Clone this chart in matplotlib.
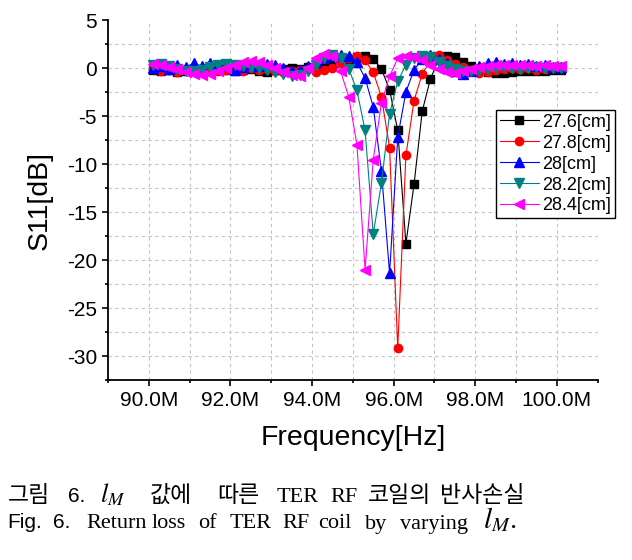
import matplotlib.pyplot as plt

# sweep points (MHz)
freq_mhz = [90.1, 90.3, 90.5, 90.7, 90.9, 91.1, 91.3, 91.5, 91.7, 91.9,
            92.1, 92.3, 92.5, 92.7, 92.9, 93.1, 93.3, 93.5, 93.7, 93.9,
            94.1, 94.3, 94.5, 94.7, 94.9, 95.1, 95.3, 95.5, 95.7, 95.9,
            96.1, 96.3, 96.5, 96.7, 96.9, 97.1, 97.3, 97.5, 97.7, 97.9,
            98.1, 98.3, 98.5, 98.7, 98.9, 99.1, 99.3, 99.5, 99.7, 99.9,
            100.1]

s11_276 = [-0.2, -0.3, -0.2, -0.4, -0.3, -0.2, -0.35, -0.3, -0.1, -0.2,
           -0.3, -0.2, -0.1, -0.3, -0.4, -0.2, -0.1, 0.0, -0.1, 0.1,
           0.0, 0.2, 0.3, 0.5, 0.7, 1.1, 1.25, 0.94, -0.1, -2.26,
           -6.5, -18.3, -12.1, -4.5, -1.15, 0.9, 1.28, 1.15, 0.6, 0.2,
           -0.2, -0.4, -0.5, -0.5, -0.4, -0.3, -0.3, -0.35, -0.3, -0.2,
           -0.2]
s11_278 = [-0.1, -0.3, -0.2, -0.4, -0.1, -0.3, -0.2, 0.0, -0.3, -0.2,
           -0.1, -0.3, 0.0, -0.2, -0.1, -0.3, -0.4, -0.3, -0.2, -0.1,
           -0.4, -0.2, 0.0, 0.52, 1.0, 1.28, 0.8, -0.45, -3.0, -8.3,
           -29.2, -9.1, -3.4, -0.6, 0.7, 1.38, 0.87, 0.4, 0.1, -0.2,
           -0.5, -0.4, -0.2, -0.1, 0.0, -0.1, 0.0, -0.2, -0.1, 0.0,
           0.1]
s11_280 = [0.0, 0.2, -0.1, 0.3, 0.1, 0.5, 0.2, 0.5, 0.0, 0.3,
           -0.2, 0.1, 0.4, 0.2, 0.4, 0.3, 0.0, -0.3, -0.2, 0.2,
           0.6, 1.0, 1.3, 1.38, 1.28, 0.59, -1.05, -4.07, -10.7, -21.4,
           -7.2, -2.5, -0.18, 0.9, 1.35, 0.94, 0.5, -0.3, -0.6, -0.3,
           0.2, 0.5, 0.6, 0.4, 0.5, 0.3, 0.4, 0.2, 0.3, 0.1,
           0.1]
s11_282 = [0.3, 0.45, 0.2, -0.1, -0.3, -0.35, -0.2, 0.1, 0.3, 0.4,
           0.3, 0.2, 0.1, 0.0, -0.2, -0.4, -0.6, -0.8, -0.75, -0.3,
           0.35, 1.0, 1.4, 1.0, -0.1, -2.33, -6.5, -17.3, -12.0, -4.76,
           -1.4, 0.35, 1.0, 1.28, 1.1, 0.6, 0.2, -0.1, -0.3, -0.3,
           -0.2, -0.1, 0.0, 0.1, 0.0, -0.1, 0.0, 0.1, 0.05, -0.05,
           0.0]
s11_284 = [0.45, 0.3, 0.1, -0.15, -0.4, -0.6, -0.7, -0.6, -0.35, -0.05,
           0.3, 0.6, 0.75, 0.65, 0.35, 0.0, -0.4, -0.7, -0.8, 0.0,
           1.0, 1.45, 1.2, -0.35, -3.0, -8.0, -21.0, -9.55, -3.65, -0.87,
           1.0, 1.2, 1.15, 0.8, 0.3, -0.1, -0.4, -0.5, -0.3, -0.1,
           0.1, 0.2, 0.3, 0.35, 0.3, 0.35, 0.3, 0.25, 0.3, 0.2,
           0.2]

labels = ['27.6[cm]', '27.8[cm]', '28[cm]', '28.2[cm]', '28.4[cm]']
xtick_vals = [90, 92, 94, 96, 98, 100]
xtick_labels = ['90.0M', '92.0M', '94.0M', '96.0M', '98.0M', '100.0M']
ytick_vals = [5, 0, -5, -10, -15, -20, -25, -30]

series = [s11_276, s11_278, s11_280, s11_282, s11_284]
colors = ['black', 'red', 'blue', '#008080', 'magenta']
markers = ['s', 'o', '^', 'v', '<']
msizes = [5.5, 6, 6.5, 6.5, 6.5]

plt.rcParams['font.family'] = 'Liberation Sans'
plt.rcParams['mathtext.fontset'] = 'stix'
plt.rcParams['axes.unicode_minus'] = False

W, H = 632, 560
fig = plt.figure(figsize=(W / 100, H / 100), dpi=100)
ax = fig.add_axes([108 / W, 1 - 380 / H, (597.7 - 108) / W, 360 / H])

# dashed grid, major and minor
for g in [-30, -27.5, -25, -22.5, -20, -17.5, -15, -12.5, -10, -7.5, -5, -2.5, 0, 2.5]:
    ax.axhline(g, color='#c4c4c4', lw=0.8, ls=(0, (3, 3)), zorder=0)
for g in range(90, 101):
    ax.axvline(g, color='#c4c4c4', lw=0.8, ls=(0, (3, 3)), zorder=0)

for vals, c, m, ms, lab in zip(series, colors, markers, msizes, labels):
    ax.plot(freq_mhz, vals, color=c, marker=m, ms=ms, lw=0.8, label=lab)

ax.set_xlim(89, 101)
ax.set_ylim(-32.5, 5)
ax.set_xticks(xtick_vals)
ax.set_xticklabels(xtick_labels)
ax.set_xticks([89, 91, 93, 95, 97, 99, 101], minor=True)
ax.set_yticks(ytick_vals)
ax.set_yticks([2.5, -2.5, -7.5, -12.5, -17.5, -22.5, -27.5, -32.5], minor=True)
ax.tick_params(which='major', direction='out', length=4, width=1.2, labelsize=15, pad=4)
ax.tick_params(which='minor', direction='out', length=2.5, width=1.2)
for side in ['top', 'right']:
    ax.spines[side].set_visible(False)
for side in ['left', 'bottom']:
    ax.spines[side].set_linewidth(1.3)

ax.set_xlabel('Frequency[Hz]', fontsize=20.5)
ax.set_ylabel('S11[dB]', fontsize=20.5)
ax.xaxis.set_label_coords(0.5, -0.125)
ax.yaxis.set_label_coords(-0.112, 0.5)

leg = ax.legend(loc='upper left', bbox_to_anchor=(496 / W, 1 - 110 / H),
                bbox_transform=fig.transFigure, fontsize=13, frameon=True,
                fancybox=False, edgecolor='black', framealpha=1,
                borderpad=0.2, labelspacing=0.22, handlelength=2.2,
                handletextpad=0.15, borderaxespad=0)
leg.get_frame().set_linewidth(1.0)


def put(x, y, s, **kw):
    fig.text(x / W, 1 - y / H, s, va='baseline', ha='left', **kw)


kr = dict(family='Noto Sans CJK KR', size=16.5)
sans = dict(family='Liberation Sans', size=15)
serif = dict(family='Liberation Serif', size=16)

# caption, Korean line
put(8, 502, '그림', **kr)
put(68, 502, '6.', **sans)
put(100, 502, '$l_M$', size=19)
put(150, 502, '값에', **kr)
put(217, 502, '따른', **kr)
put(277, 502, 'TER', **serif)
put(330, 502, 'RF', **serif)
put(368, 502, '코일의', **kr)
put(440, 502, '반사손실', **kr)

# caption, English line
put(7, 528.5, 'Fig.', **sans)
put(53, 528.5, '6.', **sans)
put(86, 528.5, 'Return', **serif)
put(152, 528.5, 'loss', **serif)
put(198, 528.5, 'of', **serif)
put(230, 528.5, 'TER', **serif)
put(282, 528.5, 'RF', **serif)
put(318, 528.5, 'coil', **serif)
put(365, 528.5, 'by', **serif)
put(400, 528.5, 'varying', **serif)
put(483, 528.5, '$l_M.$', size=21)

fig.savefig('out.png', dpi=100)
